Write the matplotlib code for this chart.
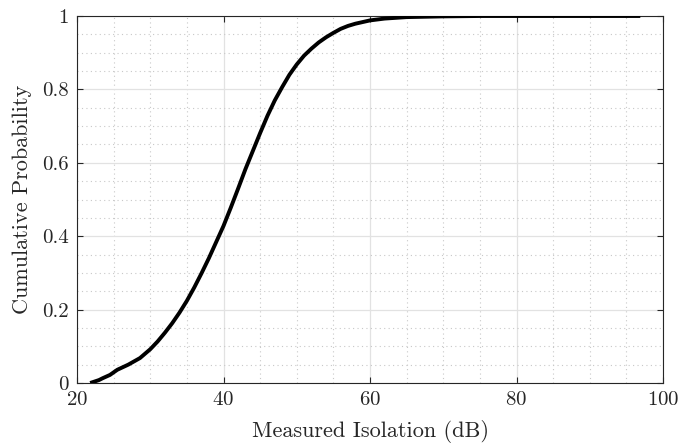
import numpy as np
import matplotlib
matplotlib.use("Agg")
import matplotlib.pyplot as plt
from matplotlib.ticker import MultipleLocator

# CDF
isolation_db = [21.8, 23.0, 23.5, 24.5, 25.5, 27.0, 28.6, 30.0, 31.0, 32.0, 33.0, 34.0,
                35.0, 36.0, 37.0, 38.0, 39.0, 40.0, 41.0, 42.0, 43.0, 44.0, 45.0,
                46.0, 47.0, 48.0, 49.0, 50.0, 51.0, 52.0, 53.0, 54.0, 55.0, 56.0,
                57.0, 58.0, 60.0, 62.0, 65.0, 70.0, 75.0, 80.0, 90.0, 96.9]
cum_prob = [0.0, 0.008, 0.013, 0.022, 0.036, 0.050, 0.068, 0.092, 0.113, 0.137, 0.163, 0.192,
            0.224, 0.260, 0.299, 0.340, 0.384, 0.428, 0.478, 0.530, 0.583, 0.632, 0.681,
            0.728, 0.770, 0.806, 0.840, 0.868, 0.892, 0.911, 0.928, 0.942, 0.954, 0.965,
            0.973, 0.979, 0.988, 0.993, 0.997, 0.999, 1.0, 1.0, 1.0, 1.0]

x_ticks = [20, 40, 60, 80, 100]
y_ticks = [0, 0.2, 0.4, 0.6, 0.8, 1]
y_labels = ["0", "0.2", "0.4", "0.6", "0.8", "1"]

plt.rcParams['font.family'] = 'serif'
plt.rcParams['font.serif'] = ['cmr10', 'DejaVu Serif']
plt.rcParams['mathtext.fontset'] = 'cm'
plt.rcParams['axes.formatter.use_mathtext'] = True

fig = plt.figure(figsize=(6.94, 4.45), dpi=100)
ax = fig.add_axes([77/694, 1 - 383/445, (663-77)/694, (383-16)/445])

ax.plot(isolation_db, cum_prob, color='black', lw=2.8, solid_joinstyle='round',
        solid_capstyle='butt', zorder=3)

ax.set_xlim(20, 100)
ax.set_ylim(0, 1)
ax.set_xticks(x_ticks)
ax.set_yticks(y_ticks)
ax.set_yticklabels(y_labels)
ax.xaxis.set_minor_locator(MultipleLocator(5))
ax.yaxis.set_minor_locator(MultipleLocator(0.05))

ax.grid(which='major', color='#e2e2e2', lw=0.9, ls='-')
ax.grid(which='minor', color='#c8c8c8', lw=0.8, ls=(0, (1, 3)))
ax.set_axisbelow(True)

ax.tick_params(which='major', direction='in', length=4, width=0.8, top=True, right=True,
               labelsize=15, colors='#262626', pad=6)
ax.tick_params(which='minor', length=0, top=True, right=True)
for s in ax.spines.values():
    s.set_color('#262626')
    s.set_linewidth(0.8)

ax.set_xlabel('Measured Isolation (dB)', fontsize=16, color='#262626', labelpad=8)
ax.set_ylabel('Cumulative Probability', fontsize=16, color='#262626', labelpad=7)

fig.savefig('out.png', dpi=100)
